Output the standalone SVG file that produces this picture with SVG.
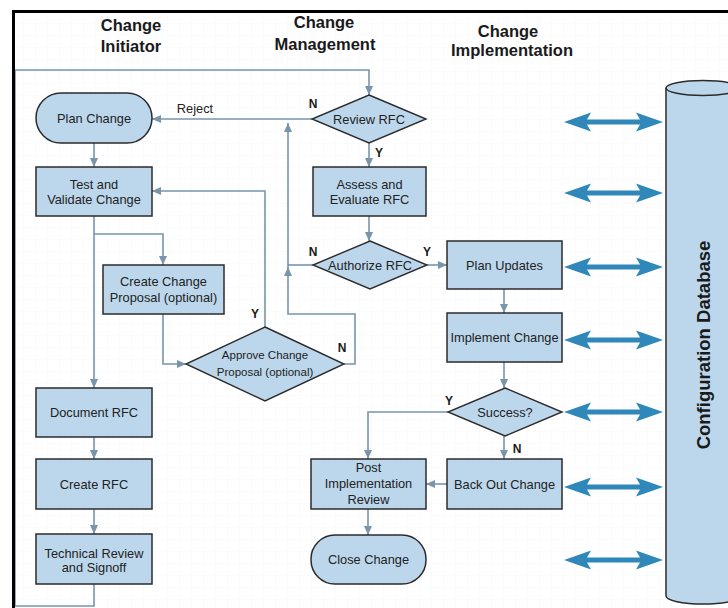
<svg xmlns="http://www.w3.org/2000/svg" xmlns:xlink="http://www.w3.org/1999/xlink" width="728" height="608" viewBox="0 0 728 608">
  <style>
    .hdr { font-family: "Liberation Sans", Arial, sans-serif; font-weight: bold; font-size: 16.5px; fill: #1a1a1a; text-anchor: middle; }
    .node { fill: #bcd7ec; stroke: #2b2b2b; stroke-width: 1.5; }
    .dec { fill: #bcd7ec; stroke: #2b2b2b; stroke-width: 1.4; }
    .lbl { font-family: "Liberation Sans", Arial, sans-serif; font-size: 12.8px; fill: #222; text-anchor: middle; }
    .small { font-size: 11.5px; }
    .yn { font-family: "Liberation Sans", Arial, sans-serif; font-weight: bold; font-size: 12px; fill: #1a1a1a; text-anchor: middle; }
    .conn { fill: none; stroke: #7895ab; stroke-width: 1.6; }
    .arrowed { marker-end: url(#head); }
    .db-link { fill: #2f88b9; }
  </style>
  <defs>
    <pattern id="grid" width="12" height="12" patternUnits="userSpaceOnUse">
      <path d="M12,0 V12 M0,12 H12" fill="none" stroke="#f4f6f9" stroke-width="1"/>
    </pattern>
    <marker id="head" markerWidth="9" markerHeight="8" refX="9" refY="4" orient="auto" markerUnits="userSpaceOnUse">
      <path d="M0,0 L9,4 L0,8 z" fill="#7895ab"/>
    </marker>
    <!-- two-headed link to the configuration database, centred on y=0 -->
    <path id="dbl" d="M564,0 L591,-9.5 L587,-2.5 L640,-2.5 L636,-9.5 L663,0 L636,9.5 L640,2.5 L587,2.5 L591,9.5 Z"/>
  </defs>

  <!-- page -->
  <rect x="0" y="0" width="728" height="608" fill="#ffffff"/>
  <rect x="14" y="12" width="714" height="596" fill="url(#grid)"/>

  <!-- swimlane headings -->
  <g id="headings">
    <text class="hdr" x="131" y="31">Change</text>
    <text class="hdr" x="131" y="52">Initiator</text>
    <text class="hdr" x="324" y="28">Change</text>
    <text class="hdr" x="325" y="50">Management</text>
    <text class="hdr" x="508" y="37">Change</text>
    <text class="hdr" x="512" y="56">Implementation</text>
  </g>

  <!-- configuration database cylinder -->
  <g id="config-db">
    <path class="node" d="M666,88 V596 A37,8 0 0 0 740,596 V88"/>
    <ellipse class="node" cx="703" cy="88" rx="37" ry="7.5"/>
    <text x="710" y="345" transform="rotate(-90 710 345)" font-family="Liberation Sans, Arial, sans-serif" font-weight="bold" font-size="18.5" fill="#1a1a1a" text-anchor="middle">Configuration Database</text>
  </g>

  <!-- connectors -->
  <g id="connectors">
    <path class="conn arrowed" d="M94,584 V606 H15 V70 H369 V95"/>
    <path class="conn arrowed" d="M312,119 H152"/>
    <path class="conn arrowed" d="M94,143 V167"/>
    <path class="conn arrowed" d="M94,216 V388"/>
    <path class="conn arrowed" d="M94,234 H163 V265"/>
    <path class="conn arrowed" d="M163,314 V364 H186"/>
    <path class="conn arrowed" d="M265,327 V191 H152"/>
    <path class="conn arrowed" d="M344,364 H355 V314 H288 V267"/>
    <path class="conn arrowed" d="M288,267 V123"/>
    <path class="conn" d="M313,265 H288"/>
    <path class="conn arrowed" d="M94,437 V459"/>
    <path class="conn arrowed" d="M94,509 V534"/>
    <path class="conn arrowed" d="M369,143 V167"/>
    <path class="conn arrowed" d="M369,216 V241"/>
    <path class="conn arrowed" d="M427,265 H447"/>
    <path class="conn arrowed" d="M504,289 V313"/>
    <path class="conn arrowed" d="M504,362 V388"/>
    <path class="conn arrowed" d="M448,412 H368 V459"/>
    <path class="conn arrowed" d="M504,436 V459"/>
    <path class="conn arrowed" d="M447,484 H426"/>
    <path class="conn arrowed" d="M368,509 V535"/>

    <use xlink:href="#dbl" class="db-link" y="122"/>
    <use xlink:href="#dbl" class="db-link" y="193"/>
    <use xlink:href="#dbl" class="db-link" y="267"/>
    <use xlink:href="#dbl" class="db-link" y="340"/>
    <use xlink:href="#dbl" class="db-link" y="412"/>
    <use xlink:href="#dbl" class="db-link" y="487"/>
    <use xlink:href="#dbl" class="db-link" y="560"/>

    <text class="lbl" x="195" y="113">Reject</text>
    <text class="yn" x="313" y="108">N</text>
    <text class="yn" x="379" y="157">Y</text>
    <text class="yn" x="313" y="256">N</text>
    <text class="yn" x="427" y="256">Y</text>
    <text class="yn" x="255" y="318">Y</text>
    <text class="yn" x="342" y="352">N</text>
    <text class="yn" x="449" y="405">Y</text>
    <text class="yn" x="517" y="453">N</text>
  </g>

  <!-- Change Initiator lane -->
  <g id="plan-change">
    <rect class="node" x="36" y="93" width="116" height="50" rx="25"/>
    <text class="lbl" x="94" y="122.5">Plan Change</text>
  </g>
  <g id="test-validate">
    <rect class="node" x="36" y="167" width="116" height="49"/>
    <text class="lbl" x="94" y="188.5">Test and</text>
    <text class="lbl" x="94" y="203.5">Validate Change</text>
  </g>
  <g id="create-proposal">
    <rect class="node" x="103" y="265" width="121" height="49"/>
    <text class="lbl" x="163.5" y="286">Create Change</text>
    <text class="lbl" x="163.5" y="301.5">Proposal (optional)</text>
  </g>
  <g id="approve-proposal">
    <polygon class="dec" points="265,327 344,364 265,401 186,364"/>
    <text class="lbl small" x="265" y="359">Approve Change</text>
    <text class="lbl small" x="265" y="376">Proposal (optional)</text>
  </g>
  <g id="document-rfc">
    <rect class="node" x="36" y="388" width="116" height="49"/>
    <text class="lbl" x="94" y="417">Document RFC</text>
  </g>
  <g id="create-rfc">
    <rect class="node" x="36" y="459" width="116" height="50"/>
    <text class="lbl" x="94" y="488.5">Create RFC</text>
  </g>
  <g id="technical-review">
    <rect class="node" x="36" y="534" width="116" height="50"/>
    <text class="lbl" x="94" y="557.5">Technical Review</text>
    <text class="lbl" x="94" y="572">and Signoff</text>
  </g>

  <!-- Change Management lane -->
  <g id="review-rfc">
    <polygon class="dec" points="369,95 426,119 369,143 312,119"/>
    <text class="lbl" x="369" y="123.5">Review RFC</text>
  </g>
  <g id="assess-evaluate">
    <rect class="node" x="313" y="167" width="113" height="49"/>
    <text class="lbl" x="369.5" y="188.5">Assess and</text>
    <text class="lbl" x="369.5" y="203.5">Evaluate RFC</text>
  </g>
  <g id="authorize-rfc">
    <polygon class="dec" points="370,241 427,265 370,289 313,265"/>
    <text class="lbl" x="370" y="269.5">Authorize RFC</text>
  </g>
  <g id="post-implementation">
    <rect class="node" x="311" y="459" width="115" height="50"/>
    <text class="lbl" x="368.5" y="472">Post</text>
    <text class="lbl" x="368.5" y="488">Implementation</text>
    <text class="lbl" x="368.5" y="504">Review</text>
  </g>
  <g id="close-change">
    <rect class="node" x="311" y="535" width="115" height="49" rx="24"/>
    <text class="lbl" x="368.5" y="563.5">Close Change</text>
  </g>

  <!-- Change Implementation lane -->
  <g id="plan-updates">
    <rect class="node" x="447" y="241" width="115" height="48"/>
    <text class="lbl" x="504.5" y="269.5">Plan Updates</text>
  </g>
  <g id="implement-change">
    <rect class="node" x="447" y="313" width="115" height="49"/>
    <text class="lbl" x="504.5" y="342">Implement Change</text>
  </g>
  <g id="success">
    <polygon class="dec" points="505,388 562,412 505,436 448,412"/>
    <text class="lbl" x="505" y="416.5">Success?</text>
  </g>
  <g id="back-out-change">
    <rect class="node" x="447" y="459" width="115" height="50"/>
    <text class="lbl" x="504.5" y="488.5">Back Out Change</text>
  </g>

  <!-- outer frame -->
  <path d="M13.5,608 V11.5 H728" fill="none" stroke="#000" stroke-width="3"/>
</svg>
